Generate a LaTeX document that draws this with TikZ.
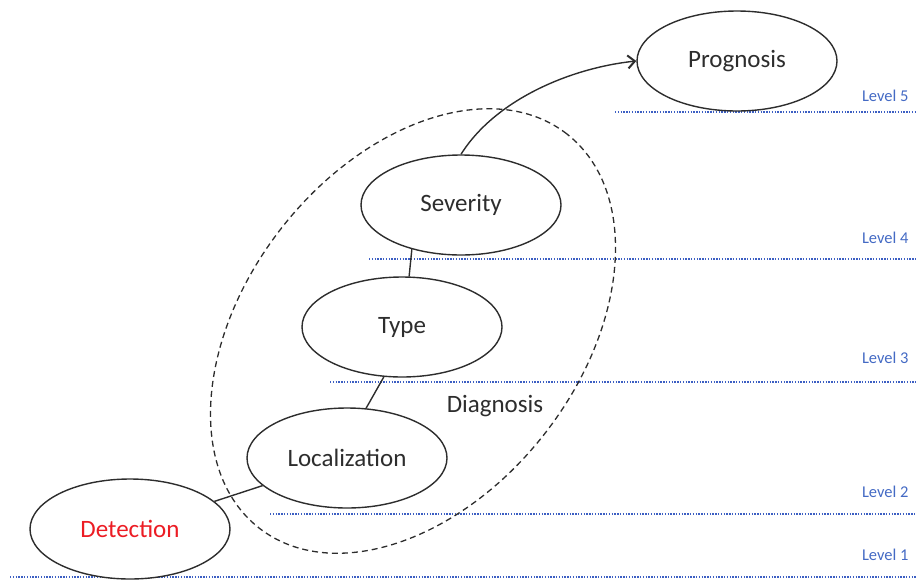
\documentclass[tikz,border=0pt]{standalone}
\usepackage{fontspec}
\setmainfont{Carlito}
\usetikzlibrary{shapes.geometric,arrows.meta}
\definecolor{lvlblue}{RGB}{68,106,196}
\definecolor{dotblue}{RGB}{60,95,195}
\definecolor{txtgray}{RGB}{45,45,45}
\definecolor{detred}{RGB}{236,28,36}
\tikzset{
  stage/.style={ellipse, draw=txtgray, line width=1.4pt, fill=white, inner sep=0pt,
    minimum width=200pt, minimum height=100pt, font=\fontsize{25}{29}\selectfont, text=txtgray},
  levelline/.style={dotblue, line width=1.8pt, dash pattern=on 1.4pt off 1.4pt},
  levellabel/.style={anchor=east, text=lvlblue, font=\fontsize{16.5}{19}\selectfont},
  link/.style={draw=txtgray, line width=1.4pt}
}
\begin{document}
\begin{tikzpicture}[x=1pt,y=-1pt]
\useasboundingbox (0,0) rectangle (916,579);
% level lines
\coordinate (l5a) at (615,112); \coordinate (l5b) at (916,112);
\coordinate (l4a) at (369,259); \coordinate (l4b) at (916,259);
\coordinate (l3a) at (330,382); \coordinate (l3b) at (916,382);
\coordinate (l2a) at (270,514); \coordinate (l2b) at (916,514);
\coordinate (l1a) at (10,577);  \coordinate (l1b) at (916,577);
\draw[levelline] (l5a) -- (l5b);
\draw[levelline] (l4a) -- (l4b);
\draw[levelline] (l3a) -- (l3b);
\draw[levelline] (l2a) -- (l2b);
\draw[levelline] (l1a) -- (l1b);
\node[levellabel] (lab5) at (912,96) {Level 5};
\node[levellabel] (lab4) at (912,238) {Level 4};
\node[levellabel] (lab3) at (912,358) {Level 3};
\node[levellabel] (lab2) at (912,492) {Level 2};
\node[levellabel] (lab1) at (912,555) {Level 1};
% diagnosis group
\node[ellipse, draw=txtgray, dashed, dash pattern=on 6pt off 4pt, line width=1.3pt,
  minimum width=500pt, minimum height=334pt, inner sep=0pt, rotate=52] (diag) at (413,331) {};
\node[font=\fontsize{25}{29}\selectfont, text=txtgray] (diaglabel) at (495,406) {Diagnosis};
% stages
\node[stage] (prog) at (737,61) {Prognosis};
\node[stage] (sev) at (461,205) {Severity};
\node[stage] (type) at (402,327) {Type};
\node[stage] (loc) at (347,458) {Localization};
\node[stage, text=detred] (det) at (130,529) {Detection};
% links
\draw[link] (det) -- (loc);
\draw[link] (loc.69) -- (type.250);
\draw[link] (type.82) -- (sev.222);
\draw[link, -{Straight Barb[length=7pt,width=13pt,line width=2pt]}] (sev.north) .. controls (495,100) and (570,68) .. (prog.west);
\end{tikzpicture}
\end{document}
